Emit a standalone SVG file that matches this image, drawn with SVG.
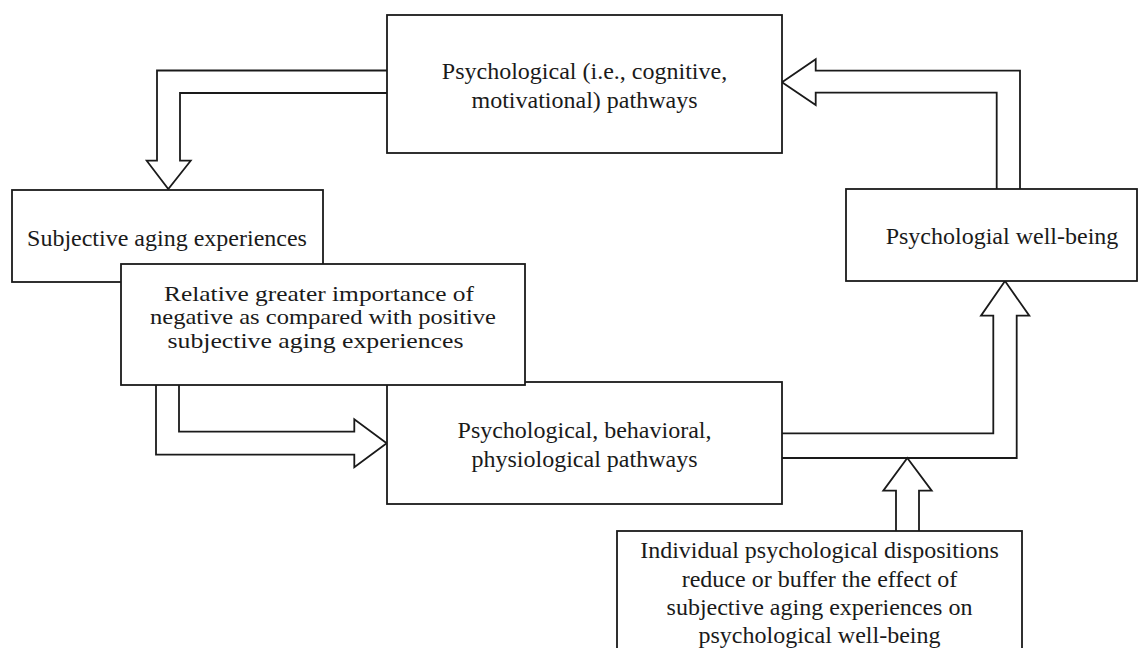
<svg xmlns="http://www.w3.org/2000/svg" width="1145" height="648" viewBox="0 0 1145 648">
<style>
.box{fill:#fff;stroke:#1a1a1a;stroke-width:1.8}
.arr{fill:#fff;stroke:#1a1a1a;stroke-width:1.8;stroke-linejoin:miter}
text{font-family:"Liberation Serif","Times New Roman",serif;font-size:24px;fill:#1a1a1a;text-anchor:middle}
.tight{font-size:21px}
</style>
<rect width="1145" height="648" fill="#fff"/>
<g id="connectors">
<path class="arr" d="M387,70.5 L157,70.5 L157,160.7 L146.7,160.7 L168.3,189 L190.7,160.7 L180,160.7 L180,93 L387,93"/>
<path class="arr" d="M156,385 L156,454.7 L354.3,454.7 L354.3,467.3 L386.7,443.3 L354.3,419.3 L354.3,431.7 L179,431.7 L179,385"/>
<path class="arr" d="M782,433.3 L993.3,433.3 L993.3,315.7 L981,315.7 L1005,281 L1029.3,315.7 L1016.7,315.7 L1016.7,458 L782,458"/>
<path class="arr" d="M896,531 L896,490.7 L883.3,490.7 L907.3,458 L931.7,490.7 L919,490.7 L919,531"/>
<path class="arr" d="M996.7,189 L996.7,92.7 L815.7,92.7 L815.7,105 L782,82.3 L815.7,59.3 L815.7,70.7 L1020,70.7 L1020,189"/>
</g>
<g id="psych-pathways-top">
<rect class="box" x="387" y="15" width="395" height="138"/>
<text x="584.5" y="79">Psychological (i.e., cognitive,</text>
<text x="584.5" y="108">motivational) pathways</text>
</g>
<g id="subjective-aging">
<rect class="box" x="12" y="190" width="311" height="92"/>
<text x="167" y="245.7">Subjective aging experiences</text>
</g>
<g id="wellbeing">
<rect class="box" x="846" y="189" width="291" height="92"/>
<text x="1002" y="244">Psychologial well-being</text>
</g>
<g id="psych-behav-physio">
<rect class="box" x="387" y="382" width="395" height="122"/>
<text x="584.5" y="438.3">Psychological, behavioral,</text>
<text x="584.5" y="466.7">physiological pathways</text>
</g>
<g id="relative-importance">
<rect class="box" x="121" y="264" width="404" height="121"/>
<text class="tight" x="319" y="300.5" textLength="310" lengthAdjust="spacingAndGlyphs">Relative greater importance of</text>
<text class="tight" x="323" y="324" textLength="346" lengthAdjust="spacingAndGlyphs">negative as compared with positive</text>
<text class="tight" x="315.5" y="347.5" textLength="296" lengthAdjust="spacingAndGlyphs">subjective aging experiences</text>
</g>
<g id="dispositions">
<rect class="box" x="617" y="531" width="405" height="130"/>
<text x="819.5" y="558.3">Individual psychological dispositions</text>
<text x="819.5" y="586.7">reduce or buffer the effect of</text>
<text x="819.5" y="615">subjective aging experiences on</text>
<text x="819.5" y="643.3">psychological well-being</text>
</g>
</svg>
